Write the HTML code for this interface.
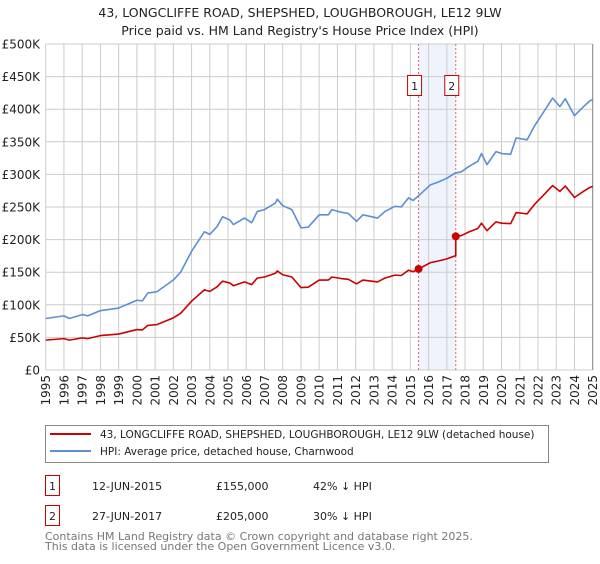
<!DOCTYPE html>
<html><head><meta charset="utf-8"><style>
body{margin:0;background:#fff;font-family:"DejaVu Sans","Liberation Sans",sans-serif;}
svg text{font-family:"DejaVu Sans","Liberation Sans",sans-serif;}
</style></head><body>
<svg id="c" width="600" height="560" xmlns="http://www.w3.org/2000/svg">
<text x="300" y="17" text-anchor="middle" font-size="12.5" fill="#222">43, LONGCLIFFE ROAD, SHEPSHED, LOUGHBOROUGH, LE12 9LW</text>
<text x="300" y="35" text-anchor="middle" font-size="12.5" fill="#222">Price paid vs. HM Land Registry's House Price Index (HPI)</text>
<g id="plot"></g>
<g>
<rect x="45.5" y="425.5" width="503" height="37" fill="#fff" stroke="#888"/>
<line x1="50" y1="434" x2="91" y2="434" stroke="#cc0000" stroke-width="2"/>
<text x="100" y="438" font-size="10.5" fill="#222">43, LONGCLIFFE ROAD, SHEPSHED, LOUGHBOROUGH, LE12 9LW (detached house)</text>
<line x1="50" y1="451" x2="91" y2="451" stroke="#5b8fd4" stroke-width="2"/>
<text x="100" y="455" font-size="10.5" fill="#222">HPI: Average price, detached house, Charnwood</text>
</g>
<g font-size="11" fill="#222">
<rect x="45.5" y="475.5" width="14" height="20" fill="none" stroke="#cc0000"/>
<text x="52.5" y="490" text-anchor="middle">1</text>
<text x="92" y="490">12-JUN-2015</text><text x="216" y="490">£155,000</text><text x="313" y="490">42% ↓ HPI</text>
<rect x="45.5" y="505.5" width="14" height="20" fill="none" stroke="#cc0000"/>
<text x="52.5" y="520" text-anchor="middle">2</text>
<text x="92" y="520">27-JUN-2017</text><text x="216" y="520">£205,000</text><text x="313" y="520">30% ↓ HPI</text>
</g>
<text x="45" y="540" font-size="11" fill="#777">Contains HM Land Registry data © Crown copyright and database right 2025.</text>
<text x="45" y="550" font-size="11" fill="#777">This data is licensed under the Open Government Licence v3.0.</text>
</svg>
<script>
const hpiYears=[1995,1996,1996.3,1997,1997.3,1998,1999,2000,2000.3,2000.6,2001.1,2002,2002.4,2003,2003.7,2004,2004.4,2004.7,2005.1,2005.3,2005.9,2006.3,2006.6,2007,2007.6,2007.7,2008,2008.5,2009,2009.4,2010,2010.5,2010.7,2011.2,2011.6,2012.05,2012.4,2013.2,2013.6,2014.15,2014.5,2014.9,2015.15,2015.6,2016.1,2016.5,2017.0,2017.45,2017.8,2018.2,2018.7,2018.9,2019.2,2019.7,2020.0,2020.5,2020.8,2021.4,2021.8,2022.2,2022.8,2023.2,2023.5,2023.75,2024.0,2024.5,2024.85,2025];
const hpiValues=[79,83,79,85,83,91,95,107,106,118,120,138,150,182,212,208,220,235,230,223,233,226,243,246,256,262,252,246,218,219,238,238,246,242,240,228,238,233,243,251,250,264,260,271,284,288,294,302,304,312,320,332,315,335,332,331,356,353,374,391,417,404,416,403,390,404,413,415];
const saleYears=[2015.45,2017.49];
const salePrices=[155,205];
const saleLabels=["1","2"];
const yTicks=[0,50,100,150,200,250,300,350,400,450,500];
const yTickLabels=["£0","£50K","£100K","£150K","£200K","£250K","£300K","£350K","£400K","£450K","£500K"];
const xTicks=[1995,1996,1997,1998,1999,2000,2001,2002,2003,2004,2005,2006,2007,2008,2009,2010,2011,2012,2013,2014,2015,2016,2017,2018,2019,2020,2021,2022,2023,2024,2025];

const NS="http://www.w3.org/2000/svg";
const X0=45.7,X1=592.7,Y0=370,Y1=44;
const xs=y=>X0+(y-1995)/30*(X1-X0);
const ys=v=>Y0-v/500*(Y0-Y1);
const g=document.getElementById('plot');
function mk(t,a){const e=document.createElementNS(NS,t);for(const k in a)e.setAttribute(k,a[k]);g.appendChild(e);return e;}
function hpiAt(t){for(let i=0;i<hpiYears.length-1;i++){if(t<=hpiYears[i+1]){const f=(t-hpiYears[i])/(hpiYears[i+1]-hpiYears[i]);return hpiValues[i]+f*(hpiValues[i+1]-hpiValues[i]);}}return hpiValues[hpiValues.length-1];}
const sh=mk('rect',{x:xs(saleYears[0]),y:Y1,width:xs(saleYears[1])-xs(saleYears[0]),height:Y0-Y1,fill:'#eef3fc'});


yTicks.forEach((v,i)=>{
 const l=mk('line',{x1:X0,x2:X1,y1:ys(v),y2:ys(v),stroke:'#cccccc','stroke-width':1});
 
 
 const t=mk('text',{x:40,y:ys(v)+4.5,'text-anchor':'end','font-size':12,fill:'#222'});
 t.textContent=yTickLabels[i];
 
 
});
xTicks.forEach(yr=>{
 const l=mk('line',{x1:xs(yr),x2:xs(yr),y1:Y1,y2:Y0,stroke:'#cccccc','stroke-width':1});
 
 
 const t=mk('text',{x:0,y:0,'text-anchor':'end','font-size':12,fill:'#222',transform:`translate(${xs(yr)+4.5},375) rotate(-90)`});
 t.textContent=yr;
 
 
});
const rb=mk('line',{x1:X1,x2:X1,y1:Y1,y2:Y0,stroke:'#888','stroke-width':1});


saleYears.forEach((yr,i)=>{
 const l=mk('line',{x1:xs(yr),x2:xs(yr),y1:Y1,y2:Y0,stroke:'#e06666','stroke-width':1,'stroke-dasharray':'2,2'});
 
 
 const r=mk('rect',{x:xs(yr)-11,y:75.5,width:14,height:20,fill:'#fff',stroke:'#cc0000'});
 
 
 const t=mk('text',{x:xs(yr)-4,y:90,'text-anchor':'middle','font-size':11,fill:'#222'});
 t.textContent=saleLabels[i];
 
 
});
const hp=mk('polyline',{points:hpiYears.map((y,i)=>xs(y)+','+ys(hpiValues[i])).join(' '),fill:'none',stroke:'#5b8fd4','stroke-width':1.6,'stroke-linejoin':'round'});


const pts=[];
const r0=salePrices[0]/hpiAt(saleYears[0]);
hpiYears.forEach((y,i)=>{if(y<saleYears[1])pts.push([y,hpiValues[i]*r0]);});
pts.push([saleYears[1],hpiAt(saleYears[1])*r0]);
const r1=salePrices[1]/hpiAt(saleYears[1]);
pts.push([saleYears[1],salePrices[1]]);
hpiYears.forEach((y,i)=>{if(y>saleYears[1])pts.push([y,hpiValues[i]*r1]);});
const pp=mk('polyline',{points:pts.map(p=>xs(p[0])+','+ys(p[1])).join(' '),fill:'none',stroke:'#cc0000','stroke-width':1.6,'stroke-linejoin':'round'});


saleYears.forEach((yr,i)=>{
 const c=mk('circle',{cx:xs(yr),cy:ys(salePrices[i]),r:4,fill:'#cc0000'});
 
 
});
</script>
</body></html>
